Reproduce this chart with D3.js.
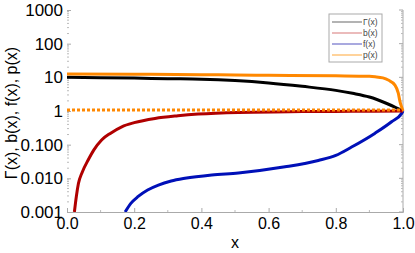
<!DOCTYPE html>
<html>
<head>
<meta charset="utf-8">
<script src="https://cdn.jsdelivr.net/npm/d3@7"></script>
<style>
  body { margin: 0; background: #fff; }
  text { font-family: "Liberation Sans", Arial, sans-serif; }
</style>
</head>
<body>
<svg id="chart" width="415" height="253"></svg>
<script>
// values
const gammaX = [0, 0.1, 0.2, 0.3, 0.4, 0.5, 0.6, 0.7, 0.8, 0.85, 0.9, 0.95, 0.98, 1.0];
const gammaY = [10, 9.8, 9.5, 9.1, 8.8, 8.0, 6.8, 5.4, 4.1, 3.35, 2.6, 1.7, 1.25, 1.0];

const bX = [0.022, 0.028, 0.034, 0.045, 0.063, 0.08, 0.103, 0.13, 0.163, 0.2, 0.262, 0.33, 0.39, 0.51, 0.7, 0.85, 1.0];
const bY = [0.001, 0.003, 0.007, 0.015, 0.035, 0.07, 0.138, 0.22, 0.34, 0.45, 0.6, 0.72, 0.81, 0.91, 0.96, 0.98, 1.0];

const fX = [0.173, 0.19, 0.212, 0.24, 0.272, 0.31, 0.351, 0.431, 0.51, 0.649, 0.748, 0.8, 0.847, 0.917, 0.966, 0.996, 1.0];
const fY = [0.001, 0.0018, 0.0029, 0.0045, 0.0063, 0.0083, 0.010, 0.0126, 0.0145, 0.022, 0.034, 0.048, 0.085, 0.22, 0.48, 0.85, 1.0];

const pX = [0, 0.2, 0.4, 0.5, 0.6, 0.8, 0.9, 0.917, 0.94, 0.956, 0.976, 0.986, 0.991, 0.996, 1.0];
const pY = [12.5, 12.3, 12, 11.7, 11.5, 11.1, 10.7, 10.4, 9.6, 8.3, 5.9, 3.4, 1.9, 1.3, 1.0];

const refX = [0, 1];
const refY = [1, 1];

const xTicks = [0, 0.2, 0.4, 0.6, 0.8, 1.0];
const xTickLabels = ['0.0', '0.2', '0.4', '0.6', '0.8', '1.0'];
const yTicks = [0.001, 0.01, 0.1, 1, 10, 100, 1000];
const yTickLabels = ['0.001', '0.010', '0.100', '1', '10', '100', '1000'];

const legendNames = ['Γ(x)', 'b(x)', 'f(x)', 'p(x)'];
const legendColors = ['#9a9a9a', '#e4a4a4', '#8c8cd4', '#ffc47a'];

const svg = d3.select('#chart');
const m = { left: 67, right: 403, top: 10, bottom: 212 };

const x = d3.scaleLinear().domain([0, 1]).range([m.left, m.right]);
const y = d3.scaleLog().domain([0.001, 1000]).range([m.bottom, m.top]);

svg.append('clipPath').attr('id', 'clip')
    .append('rect')
    .attr('x', m.left).attr('y', m.top - 2)
    .attr('width', m.right - m.left + 2).attr('height', m.bottom - m.top + 2);

// minor ticks for the log axis
const minor = [];
for (let e = -3; e < 3; e++) {
    for (let k = 2; k < 10; k++) minor.push(k * Math.pow(10, e));
}

// left ticks (no axis line)
const leftAxis = d3.axisLeft(y).tickValues(yTicks).tickFormat((d, i) => yTickLabels[i]).tickSize(-4).tickPadding(4);
const gl = svg.append('g').attr('transform', `translate(${m.left},0)`).call(leftAxis);
gl.select('.domain').remove();
gl.selectAll('.tick line').attr('stroke', '#aaa');
gl.selectAll('.tick text').attr('font-size', 17).attr('fill', '#000').attr('x', -4);
svg.append('g').selectAll('line').data(minor).enter().append('line')
    .attr('x1', m.left).attr('x2', m.left + 2)
    .attr('y1', d => y(d)).attr('y2', d => y(d))
    .attr('stroke', '#bbb');

// right axis line with ticks
svg.append('line').attr('x1', m.right).attr('x2', m.right).attr('y1', m.top).attr('y2', m.bottom).attr('stroke', '#aaa');
svg.append('g').selectAll('line').data(yTicks).enter().append('line')
    .attr('x1', m.right - 4).attr('x2', m.right)
    .attr('y1', d => y(d)).attr('y2', d => y(d)).attr('stroke', '#aaa');
svg.append('g').selectAll('line').data(minor).enter().append('line')
    .attr('x1', m.right - 2).attr('x2', m.right)
    .attr('y1', d => y(d)).attr('y2', d => y(d)).attr('stroke', '#bbb');

// bottom axis
const bottomAxis = d3.axisBottom(x).tickValues(xTicks).tickFormat((d, i) => xTickLabels[i]).tickSize(-4).tickPadding(6);
const gb = svg.append('g').attr('transform', `translate(0,${m.bottom})`).call(bottomAxis);
gb.select('.domain').attr('stroke', '#aaa');
gb.selectAll('.tick line').attr('stroke', '#aaa');
gb.selectAll('.tick text').attr('font-size', 16).attr('fill', '#000');
svg.append('g').selectAll('line').data([0.1, 0.3, 0.5, 0.7, 0.9]).enter().append('line')
    .attr('x1', d => x(d)).attr('x2', d => x(d))
    .attr('y1', m.bottom).attr('y2', m.bottom - 2).attr('stroke', '#bbb');

svg.append('text').attr('x', (m.left + m.right) / 2).attr('y', 248)
    .attr('text-anchor', 'middle').attr('font-size', 16).text('x');
svg.append('text')
    .attr('transform', 'translate(17,113) rotate(-90)')
    .attr('text-anchor', 'middle').attr('font-size', 16).text('Γ(x), b(x), f(x), p(x)');

const line = d3.line().x(d => x(d[0])).y(d => y(d[1])).curve(d3.curveMonotoneX);
const plot = svg.append('g').attr('clip-path', 'url(#clip)');

const series = [
    { xs: gammaX, ys: gammaY, color: '#000000' },
    { xs: pX, ys: pY, color: '#ff8800' },
    { xs: fX, ys: fY, color: '#0010b8' },
    { xs: bX, ys: bY, color: '#b00000' }
];
series.forEach(s => {
    plot.append('path')
        .datum(s.xs.map((v, i) => [v, s.ys[i]]))
        .attr('d', line)
        .attr('fill', 'none')
        .attr('stroke', s.color)
        .attr('stroke-width', 3);
});

plot.append('path')
    .datum(refX.map((v, i) => [v, refY[i]]))
    .attr('d', line)
    .attr('fill', 'none')
    .attr('stroke', '#ff8800')
    .attr('stroke-width', 3)
    .attr('stroke-dasharray', '3,2')
    .attr('transform', 'translate(0,-1)');

// legend
const lg = svg.append('g').attr('transform', 'translate(329,14)');
lg.append('rect').attr('width', 53).attr('height', 48)
    .attr('fill', '#fff').attr('stroke', '#aaa').attr('stroke-width', 1);
legendNames.forEach((name, i) => {
    const ly = 8 + i * 11;
    lg.append('line').attr('x1', 3).attr('x2', 33).attr('y1', ly).attr('y2', ly)
        .attr('stroke', legendColors[i]).attr('stroke-width', 1.5);
    lg.append('text').attr('x', 34).attr('y', ly + 3)
        .attr('font-size', 8.5).attr('fill', '#444').text(name);
});
</script>
</body>
</html>
